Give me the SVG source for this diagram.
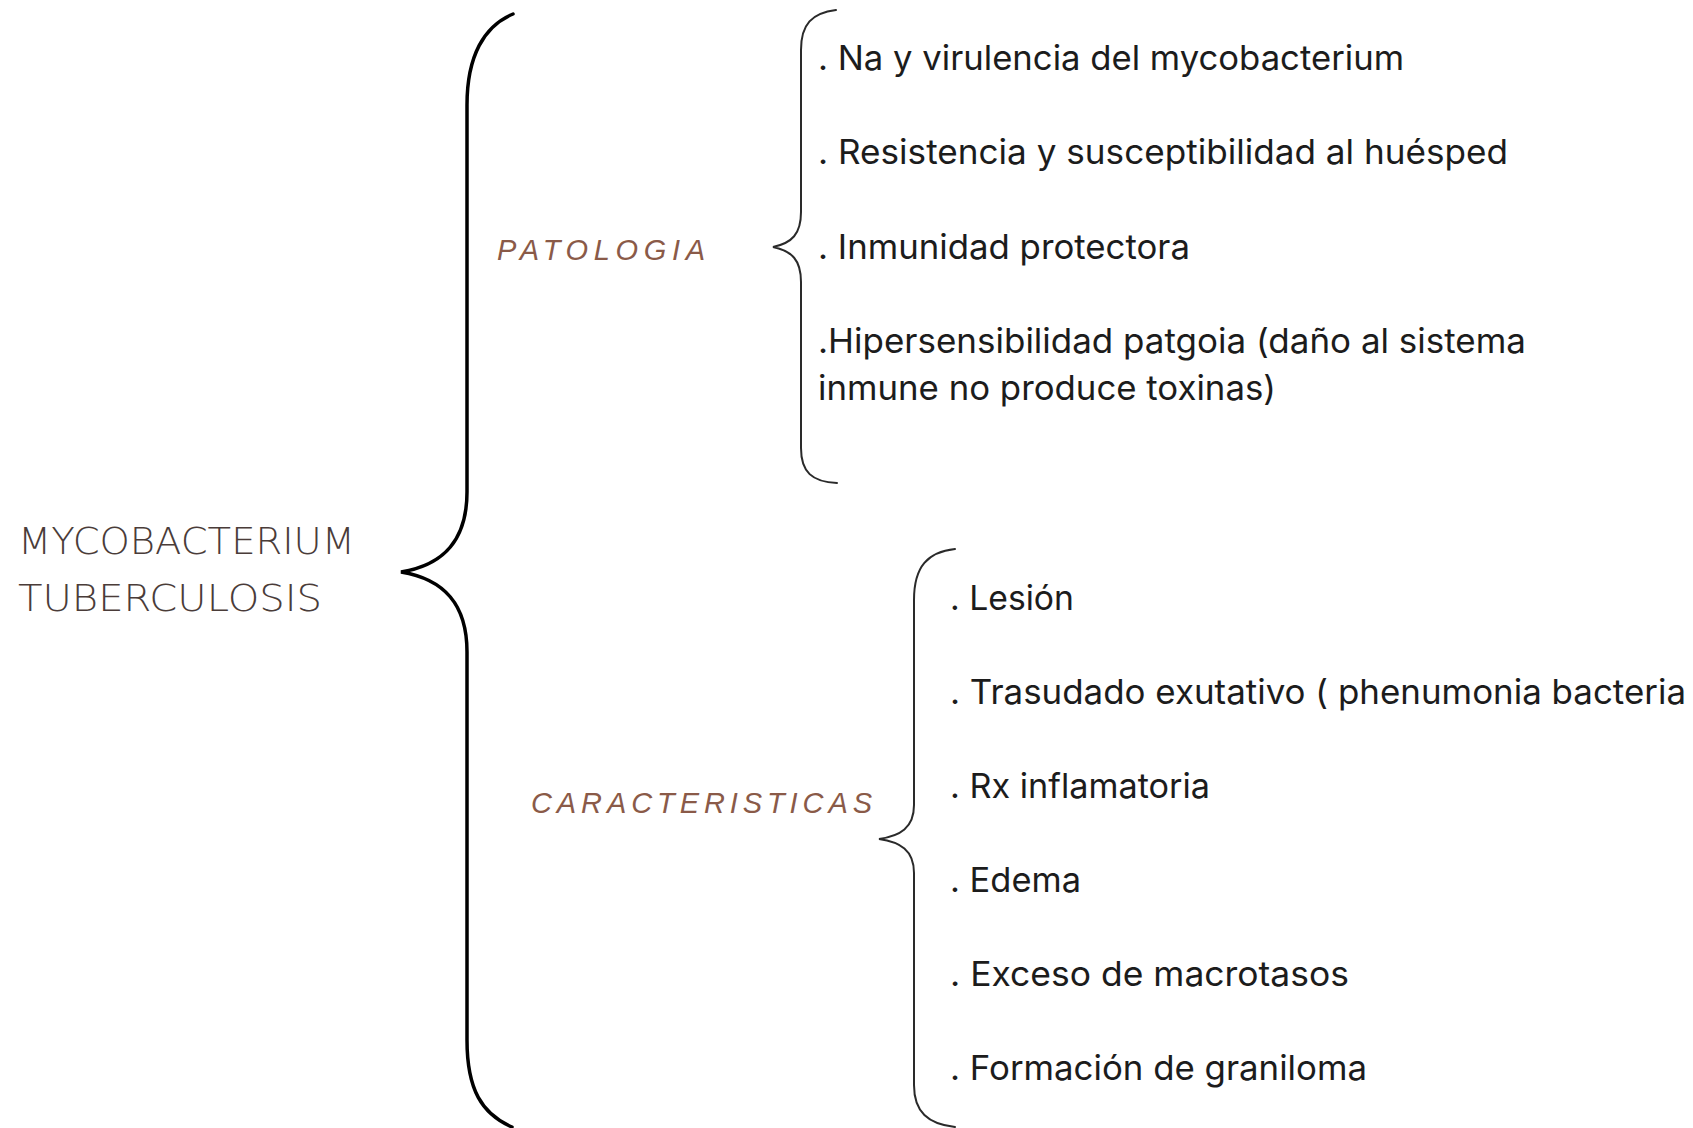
<svg xmlns="http://www.w3.org/2000/svg" width="1693" height="1128" viewBox="0 0 1693 1128">
<style>
.title{font-family:"DejaVu Sans","Liberation Sans",sans-serif;font-weight:200;font-size:38px;fill:#4a3c39;}
.cat{font-family:"Liberation Sans",Arial,sans-serif;font-style:italic;font-size:29px;fill:#8a5a48;}
.item{font-family:Inter,"Liberation Sans",sans-serif;font-size:34px;fill:#1c1c1c;}
.bigbrace{fill:none;stroke:#000;stroke-width:3.5;stroke-linecap:round;}
.brace{fill:none;stroke:#2a2a2a;stroke-width:2;stroke-linecap:round;}
</style>
<rect width="1693" height="1128" fill="#ffffff"/>
<g id="connectors">
<path class="bigbrace" d="M513,14 C484,26 467,56 467,105 L467,492 C467,540 444,565 401,572 C444,579 467,604 467,652 L467,1040 C467,1090 482,1114 512,1127"/>
<path class="brace" d="M836,10 C812,13 801,24 801,50 L801,212 C801,234 792,243 773,247 C792,251 801,260 801,282 L801,448 C801,472 812,482 837,483"/>
<path class="brace" d="M955,549 C928,552 914,566 914,600 L914,805 C914,828 900,836 879,839 C900,842 914,850 914,873 L914,1085 C914,1112 928,1124 955,1127"/>
</g>
<g id="node-main">
<text class="title" x="18" y="554" textLength="337" lengthAdjust="spacingAndGlyphs">MYCOBACTERIUM</text>
<text class="title" x="18" y="611" textLength="304" lengthAdjust="spacingAndGlyphs">TUBERCULOSIS</text>
</g>
<g id="node-patologia">
<text class="cat" x="497" y="260" textLength="208" lengthAdjust="spacing">PATOLOGIA</text>
</g>
<g id="node-caracteristicas">
<text class="cat" x="531" y="813" textLength="341" lengthAdjust="spacing">CARACTERISTICAS</text>
</g>
<g id="node-patologia-items">
<text class="item" x="818" y="70" textLength="586" lengthAdjust="spacingAndGlyphs">. Na y virulencia del mycobacterium</text>
<text class="item" x="818" y="164" textLength="690" lengthAdjust="spacingAndGlyphs">. Resistencia y susceptibilidad al huésped</text>
<text class="item" x="818" y="259" textLength="372" lengthAdjust="spacingAndGlyphs">. Inmunidad protectora</text>
<text class="item" x="818" y="353" textLength="708" lengthAdjust="spacingAndGlyphs">.Hipersensibilidad patgoia (daño al sistema</text>
<text class="item" x="818" y="400" textLength="458" lengthAdjust="spacingAndGlyphs">inmune no produce toxinas)</text>
</g>
<g id="node-caracteristicas-items">
<text class="item" x="950" y="610" textLength="124" lengthAdjust="spacingAndGlyphs">. Lesión</text>
<text class="item" x="950" y="704" textLength="736" lengthAdjust="spacingAndGlyphs">. Trasudado exutativo ( phenumonia bacteria</text>
<text class="item" x="950" y="798" textLength="260" lengthAdjust="spacingAndGlyphs">. Rx inflamatoria</text>
<text class="item" x="950" y="892" textLength="131" lengthAdjust="spacingAndGlyphs">. Edema</text>
<text class="item" x="950" y="986" textLength="399" lengthAdjust="spacingAndGlyphs">. Exceso de macrotasos</text>
<text class="item" x="950" y="1080" textLength="417" lengthAdjust="spacingAndGlyphs">. Formación de graniloma</text>
</g>
</svg>
